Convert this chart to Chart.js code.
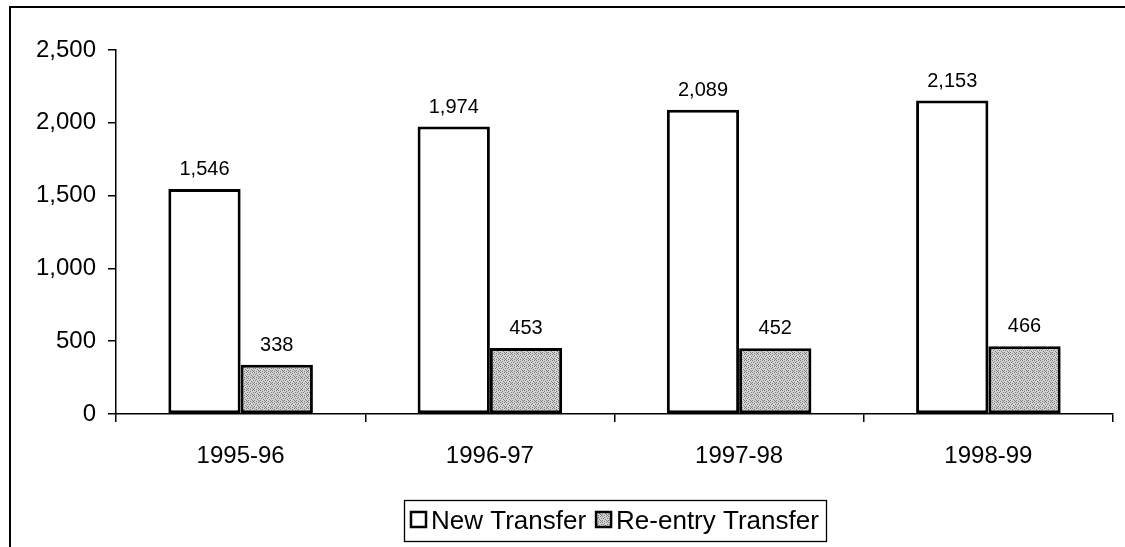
<!DOCTYPE html>
<html>
<head>
<meta charset="utf-8">
<script src="https://cdn.jsdelivr.net/npm/chart.js@4.4.1/dist/chart.umd.min.js"></script>
<style>
  html, body { margin: 0; padding: 0; background: #fff; }
  #wrap { position: relative; width: 1125px; height: 547px; overflow: hidden; }
  #frame { position: absolute; left: 9px; top: 6px; width: 1200px; height: 600px;
           border-left: 2px solid #000; border-top: 2px solid #000; pointer-events: none; }
  canvas { position: absolute; left: 0; top: 0; }
</style>
</head>
<body>
<div id="wrap">
  <canvas id="c" width="1125" height="547"></canvas>
  <div id="frame"></div>
</div>
<script>
const categories = ['1995-96', '1996-97', '1997-98', '1998-99'];
const newTransfer = [1546, 1974, 2089, 2153];
const reentryTransfer = [338, 453, 452, 466];
const seriesNames = ['New Transfer', 'Re-entry Transfer'];
const yTicks = [0, 500, 1000, 1500, 2000, 2500];

const FONT = "'Liberation Sans', Arial, sans-serif";

function makePattern() {
  const p = document.createElement('canvas');
  p.width = 6; p.height = 6;
  const g = p.getContext('2d');
  g.fillStyle = '#d2d2d2';
  g.fillRect(0, 0, 6, 6);
  g.fillStyle = '#7e7e7e';
  const dots = [[0,0],[2,0],[4,1],[1,2],[3,2],[5,3],[0,4],[2,4],[4,5],[1,5]];
  dots.forEach(([x, y]) => g.fillRect(x, y, 1, 1));
  return g.createPattern(p, 'repeat');
}
const grayPattern = makePattern();

const fmt = v => Number(v).toLocaleString('en-US');

const valueLabels = {
  id: 'valueLabels',
  afterDatasetsDraw(chart) {
    const ctx = chart.ctx;
    ctx.save();
    ctx.font = '20px ' + FONT;
    ctx.fillStyle = '#000';
    ctx.textAlign = 'center';
    ctx.textBaseline = 'alphabetic';
    chart.data.datasets.forEach((ds, i) => {
      chart.getDatasetMeta(i).data.forEach((bar, j) => {
        ctx.fillText(fmt(ds.data[j]), bar.x, bar.y - 14);
      });
    });
    ctx.restore();
  }
};

const customLegend = {
  id: 'customLegend',
  afterDraw(chart) {
    const ctx = chart.ctx;
    const ca = chart.chartArea;
    const box = 15, gapBoxText = 5, gapItems = 10, padX = 7;
    ctx.save();
    ctx.font = '26px ' + FONT;
    const items = chart.data.datasets.map(ds => ({
      label: ds.label, fill: ds.backgroundColor, w: ctx.measureText(ds.label).width
    }));
    let total = padX * 2;
    items.forEach((it, i) => { total += box + gapBoxText + it.w + (i < items.length - 1 ? gapItems : 0); });
    const cx = (ca.left + ca.right) / 2;
    const top = ca.bottom + 86, height = 41;
    const left = Math.round(cx - total / 2);
    ctx.strokeStyle = '#000';
    ctx.lineWidth = 1.3;
    ctx.strokeRect(left + 0.5, top + 0.5, Math.round(total), height);
    const midY = top + height / 2 + 1;
    let x = left + padX;
    items.forEach(it => {
      ctx.fillStyle = it.fill;
      ctx.fillRect(x, midY - box / 2 - 2, box, box);
      ctx.lineWidth = 2.5;
      ctx.strokeStyle = '#000';
      ctx.strokeRect(x, midY - box / 2 - 2, box, box);
      x += box + gapBoxText;
      ctx.fillStyle = '#000';
      ctx.textAlign = 'left';
      ctx.textBaseline = 'middle';
      ctx.fillText(it.label, x, midY);
      x += it.w + gapItems;
    });
    ctx.restore();
  }
};

new Chart(document.getElementById('c'), {
  type: 'bar',
  data: {
    labels: categories,
    datasets: [
      {
        label: seriesNames[0],
        data: newTransfer,
        backgroundColor: '#ffffff',
        borderColor: '#000000',
        borderWidth: 3,
        borderSkipped: false
      },
      {
        label: seriesNames[1],
        data: reentryTransfer,
        backgroundColor: grayPattern,
        borderColor: '#000000',
        borderWidth: 3,
        borderSkipped: false
      }
    ]
  },
  options: {
    responsive: false,
    animation: false,
    devicePixelRatio: 1,
    categoryPercentage: 0.58,
    barPercentage: 1.0,
    layout: { padding: { top: 50, right: 12, left: 0, bottom: 0 } },
    plugins: {
      title: { display: false },
      tooltip: { enabled: false },
      legend: { display: false }
    },
    scales: {
      x: {
        grid: { display: true, drawOnChartArea: false, drawTicks: true, tickLength: 8, color: '#000', lineWidth: 1.5, offset: true },
        border: { display: true, color: '#000', width: 1.5 },
        ticks: { color: '#000', font: { family: FONT, size: 24 }, padding: 20 },
        afterFit(scale) { scale.height = 133; }
      },
      y: {
        min: 0,
        max: 2500,
        afterBuildTicks(scale) { scale.ticks = yTicks.map(v => ({ value: v })); },
        grid: { display: true, drawOnChartArea: false, drawTicks: true, tickLength: 8, color: '#000', lineWidth: 1.5 },
        border: { display: true, color: '#000', width: 1.5 },
        ticks: { color: '#000', font: { family: FONT, size: 24 }, padding: 12, callback: v => fmt(v) },
        afterFit(scale) { scale.width = 116; }
      }
    }
  },
  plugins: [valueLabels, customLegend]
});
</script>
</body>
</html>
